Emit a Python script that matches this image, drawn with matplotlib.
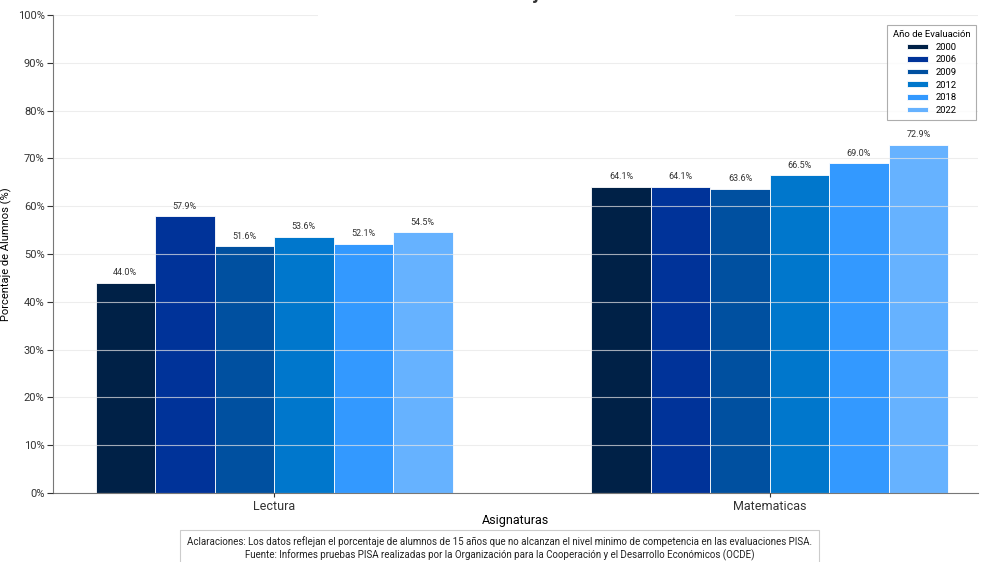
import numpy as np
import matplotlib.pyplot as plt
from matplotlib.ticker import PercentFormatter

plt.rcParams['font.family'] = ['Roboto', 'DejaVu Sans']

# ── Data ──────────────────────────────────────────────────────────────────────
subjects = ["Lectura", "Matematicas"]
years = ["2000", "2006", "2009", "2012", "2018", "2022"]
values = {
    "2000": [44.0, 64.1],
    "2006": [57.9, 64.1],
    "2009": [51.6, 63.6],
    "2012": [53.6, 66.5],
    "2018": [52.1, 69.0],
    "2022": [54.5, 72.9],
}
colors = ["#002147", "#003399", "#0050A0", "#0077CC", "#3399FF", "#66B2FF"]

title = "Evolución de alumnos bajo el nivel mínimo PISA"
note = ("Aclaraciones: Los datos reflejan el porcentaje de alumnos de 15 años que no alcanzan "
        "el nivel minimo de competencia en las evaluaciones PISA.\n"
        "Fuente: Informes pruebas PISA realizadas por la Organización para la Cooperación "
        "y el Desarrollo Económicos (OCDE)")

# ── Plot ──────────────────────────────────────────────────────────────────────
fig = plt.figure(figsize=(9.82, 5.62), dpi=100)
ax = fig.add_axes([53 / 982, 69 / 562, 925 / 982, 478 / 562])

x = np.arange(len(subjects))
width = 0.12
n = len(years)

for i, (yr, col) in enumerate(zip(years, colors)):
    offs = (i - (n - 1) / 2) * width
    bars = ax.bar(x + offs, values[yr], width, color=col, edgecolor="white",
                  linewidth=0.6, label=yr, zorder=1)
    ax.bar_label(bars, labels=[f"{v:.1f}%" for v in values[yr]], padding=4,
                 fontsize=6.5, color="#333333")

ax.set_xlim(-0.446, 1.42)
ax.set_ylim(0, 100)
ax.yaxis.set_major_locator(plt.MultipleLocator(10))
ax.yaxis.set_major_formatter(PercentFormatter(decimals=0))
ax.set_xticks(x)
ax.set_xticklabels(subjects, fontsize=9)
ax.tick_params(axis="y", labelsize=8, colors="#333333", length=4, pad=2)
ax.tick_params(axis="x", colors="#333333", length=3, pad=2)
ax.set_xlabel("Asignaturas", fontsize=9, labelpad=1)
ax.set_ylabel("Porcentaje de Alumnos (%)", fontsize=8, labelpad=4)

ax.grid(axis="y", color="#e6e6e6", linewidth=0.8, alpha=0.7, zorder=2)
ax.set_axisbelow(False)
for s in ["top", "right"]:
    ax.spines[s].set_visible(False)
for s in ["left", "bottom"]:
    ax.spines[s].set_color("#777777")

leg = ax.legend(title="Año de Evaluación", loc="upper right",
                bbox_to_anchor=(1.003, 0.99), fontsize=6.8, title_fontsize=6.8,
                frameon=True, fancybox=False, handlelength=2.2, handleheight=0.55,
                labelspacing=0.38, borderpad=0.6)
leg.get_frame().set_edgecolor("#999999")
leg.get_frame().set_linewidth(0.8)

# título casi fuera de la figura, como en el original
fig.text(0.536, 1 + 1 / 562, title, ha="center", va="baseline", fontsize=13,
         fontweight="bold", color="#333333",
         bbox=dict(facecolor="white", edgecolor="none", pad=10))

fig.text(0.509, 1 / 562, note, ha="center", va="bottom", fontsize=7,
         color="#222222", linespacing=1.25,
         bbox=dict(facecolor="white", edgecolor="#cccccc", linewidth=0.8, pad=5))

fig.savefig("out.png", dpi=100)
